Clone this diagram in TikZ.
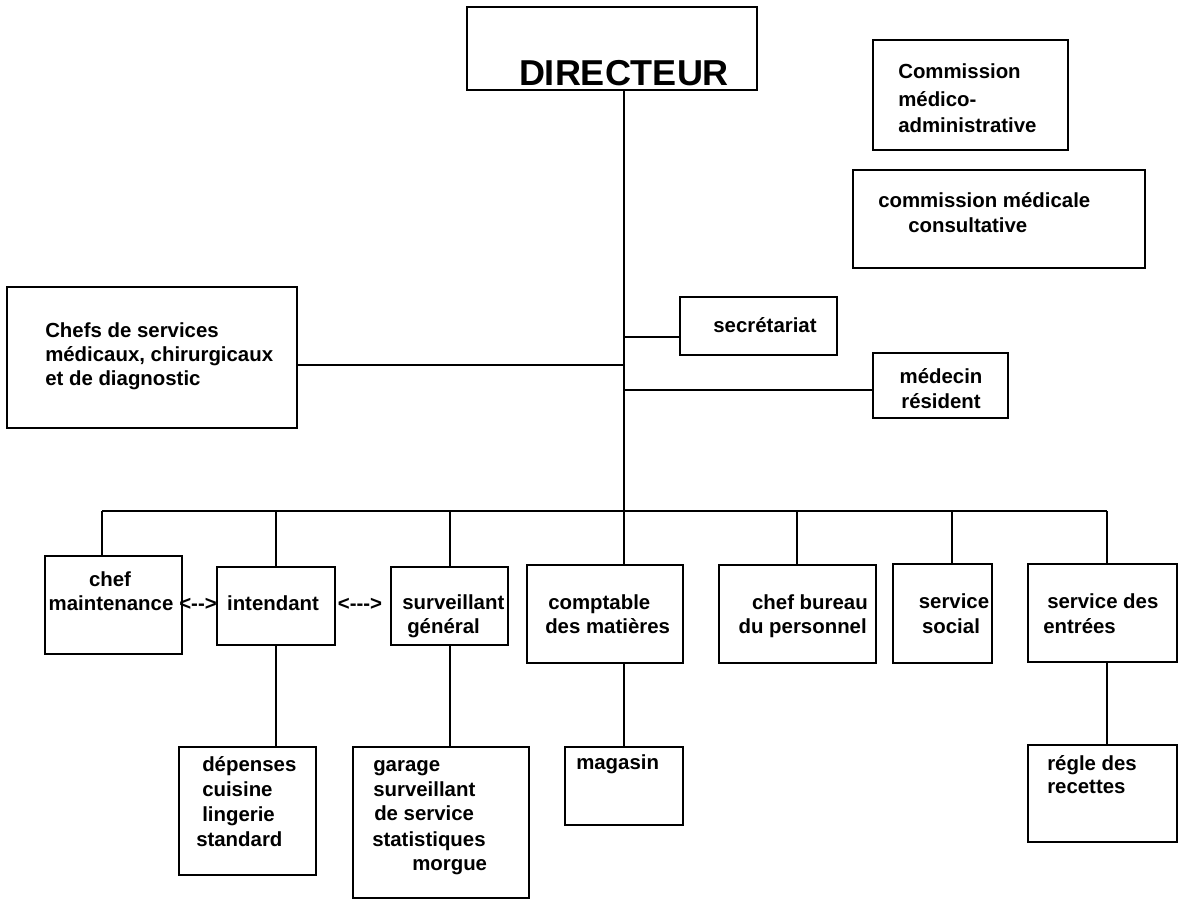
\documentclass[tikz,border=0pt]{standalone}
\usepackage{fontspec}
\setmainfont{Liberation Sans}
\usetikzlibrary{fit}
\begin{document}
\begin{tikzpicture}[x=0.75pt,y=-0.75pt]
\tikzset{
  box/.style={draw, line width=1.6pt, inner sep=0pt},
  lbl/.style={inner sep=0pt, font=\fontsize{15.3}{18}\selectfont\bfseries},
  big/.style={inner sep=0pt, font=\fontsize{27}{32}\selectfont\bfseries},
  link/.style={line width=1.6pt},
}
\useasboundingbox (0,0) rectangle (1179,900);

% ---- top part ----
\node[box, fit={(467,7)(757,90)}] (dir) {};
\node[big, anchor=base] (dirT) at (624,85) {DIRECTEUR};

\node[box, fit={(873,40)(1068,150)}] (cma) {};
\node[lbl, anchor=base west] (cmaA) at (898,78) {Commission};
\node[lbl, anchor=base west] (cmaB) at (898,106) {médico-};
\node[lbl, anchor=base west] (cmaC) at (898,132) {administrative};

\node[box, fit={(853,170)(1145,268)}] (cmc) {};
\node[lbl, anchor=base west] (cmcA) at (878,207) {commission médicale};
\node[lbl, anchor=base west] (cmcB) at (908,232) {consultative};

\node[box, fit={(7,287)(297,428)}] (chefs) {};
\node[lbl, anchor=base west] (chefsA) at (45,337) {Chefs de services};
\node[lbl, anchor=base west] (chefsB) at (45,361) {médicaux, chirurgicaux};
\node[lbl, anchor=base west] (chefsC) at (45,385) {et de diagnostic};

\node[box, fit={(680,297)(837,355)}] (sec) {};
\node[lbl, anchor=base] (secT) at (765,332) {secrétariat};

\node[box, fit={(873,353)(1008,418)}] (med) {};
\node[lbl, anchor=base] (medA) at (941,383) {médecin};
\node[lbl, anchor=base] (medB) at (941,408) {résident};

% ---- middle row ----
\node[box, fit={(45,556)(182,654)}] (maint) {};
\node[lbl, anchor=base] (maintA) at (110,586) {chef};
\node[lbl, anchor=base] (maintB) at (111,610) {maintenance};

\node[box, fit={(217,567)(335,645)}] (int) {};
\node[lbl, anchor=base] (intT) at (273,610) {intendant};

\node[lbl, anchor=base] (arrA) at (198,610) {<-{}->};
\node[lbl, anchor=base] (arrB) at (360,610) {<-{}-{}->};

\node[box, fit={(391,567)(508,645)}] (surv) {};
\node[lbl, anchor=base west] (survA) at (402,609) {surveillant};
\node[lbl, anchor=base west] (survB) at (407,633) {général};

\node[box, fit={(527,565)(683,663)}] (comp) {};
\node[lbl, anchor=base west] (compA) at (548,609) {comptable};
\node[lbl, anchor=base west] (compB) at (545,633) {des matières};

\node[box, fit={(719,565)(876,663)}] (bur) {};
\node[lbl, anchor=base east] (burA) at (868,609) {chef bureau};
\node[lbl, anchor=base east] (burB) at (867,633) {du personnel};

\node[box, fit={(893,564)(992,663)}] (soc) {};
\node[lbl, anchor=base] (socA) at (954,608) {service};
\node[lbl, anchor=base] (socB) at (951,633) {social};

\node[box, fit={(1028,564)(1177,662)}] (ent) {};
\node[lbl, anchor=base west] (entA) at (1047,608) {service des};
\node[lbl, anchor=base west] (entB) at (1043,633) {entrées};

% ---- bottom row ----
\node[box, fit={(179,747)(316,875)}] (dep) {};
\node[lbl, anchor=base west] (depA) at (202,771) {dépenses};
\node[lbl, anchor=base west] (depB) at (202,796) {cuisine};
\node[lbl, anchor=base west] (depC) at (202,821) {lingerie};
\node[lbl, anchor=base west] (depD) at (196,846) {standard};

\node[box, fit={(353,747)(529,898)}] (gar) {};
\node[lbl, anchor=base west] (garA) at (373,771) {garage};
\node[lbl, anchor=base west] (garB) at (373,796) {surveillant};
\node[lbl, anchor=base west] (garC) at (374,820) {de service};
\node[lbl, anchor=base west] (garD) at (372,846) {statistiques};
\node[lbl, anchor=base west] (garE) at (412,870) {morgue};

\node[box, fit={(565,747)(683,825)}] (mag) {};
\node[lbl, anchor=base west] (magT) at (576,769) {magasin};

\node[box, fit={(1028,745)(1177,842)}] (rec) {};
\node[lbl, anchor=base west] (recA) at (1047,770) {régle des};
\node[lbl, anchor=base west] (recB) at (1047,793) {recettes};

% ---- connector coordinates ----
\coordinate (spine) at (624,90);
\coordinate (jChefs) at (624,365);
\coordinate (jSec) at (624,337);
\coordinate (jMed) at (624,390);
\coordinate (dMaint) at (102,511);
\coordinate (dInt) at (276,511);
\coordinate (dSurv) at (450,511);
\coordinate (dComp) at (624,511);
\coordinate (dBur) at (797,511);
\coordinate (dSoc) at (952,511);
\coordinate (dEnt) at (1107,511);

% ---- connectors ----
\draw[link] (dir.south -| spine) -- (comp.north -| spine);
\draw[link] (chefs.east |- jChefs) -- (jChefs);
\draw[link] (jSec) -- (sec.west |- jSec);
\draw[link] (jMed) -- (med.west |- jMed);
\draw[link] (dMaint) -- (dEnt);
\draw[link] (dMaint) -- (maint.north -| dMaint);
\draw[link] (dInt) -- (int.north -| dInt);
\draw[link] (dSurv) -- (surv.north -| dSurv);
\draw[link] (dBur) -- (bur.north -| dBur);
\draw[link] (dSoc) -- (soc.north -| dSoc);
\draw[link] (dEnt) -- (ent.north -| dEnt);
\draw[link] (int.south -| dInt) -- (dep.north -| dInt);
\draw[link] (surv.south -| dSurv) -- (gar.north -| dSurv);
\draw[link] (comp.south -| dComp) -- (mag.north -| dComp);
\draw[link] (ent.south -| dEnt) -- (rec.north -| dEnt);
\end{tikzpicture}
\end{document}
